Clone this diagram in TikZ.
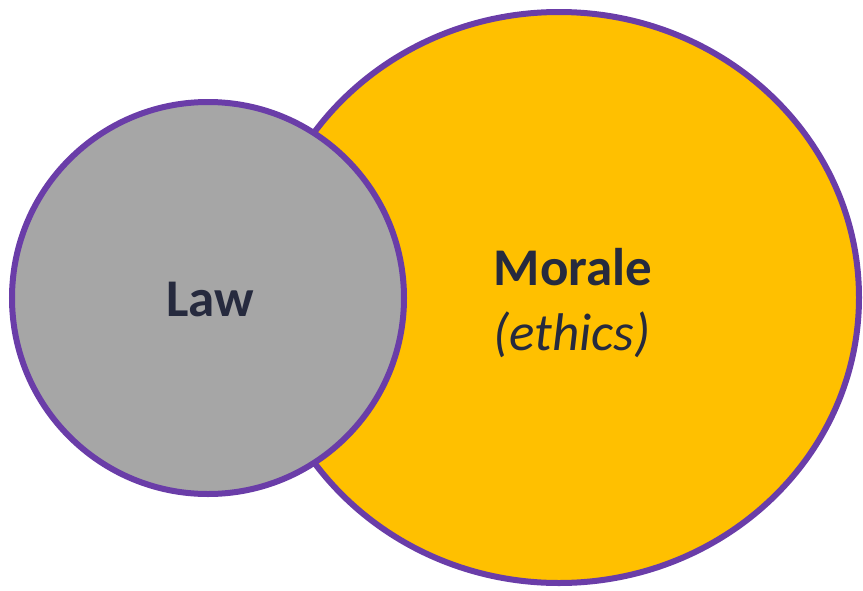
\documentclass[tikz,border=0pt]{standalone}
\usepackage{fontspec}
\setmainfont{Carlito}
\definecolor{ringpurple}{HTML}{6A3DA8}
\definecolor{lawgray}{HTML}{A6A6A6}
\definecolor{moralyellow}{HTML}{FFC000}
\definecolor{textnavy}{HTML}{262A3E}
\begin{document}
\begin{tikzpicture}[x=1pt,y=-1pt,
  ring/.style={draw=ringpurple,line width=6pt},
  lbl/.style={text=textnavy,inner sep=0pt,anchor=base}]
\useasboundingbox (0,0) rectangle (863,590);
\draw[ring,fill=moralyellow] (559,297.5) ellipse [x radius=300, y radius=285.5];
\draw[ring,fill=lawgray] (208,298) circle (196);
\node[lbl,font=\fontsize{53}{60}\selectfont\bfseries] (law) at (210,316) {Law};
\node[lbl,font=\fontsize{53}{60}\selectfont\bfseries] (morale) at (573,285) {Morale};
\node[lbl,font=\fontsize{53}{60}\selectfont\itshape] (ethics) at (572,350) {(ethics)};
\end{tikzpicture}
\end{document}
